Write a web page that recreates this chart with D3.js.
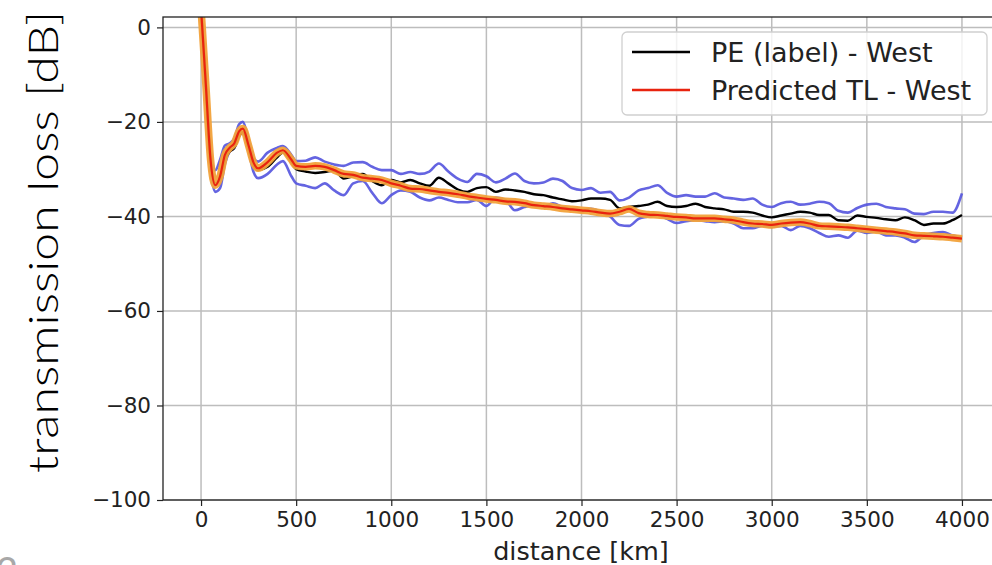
<!DOCTYPE html>
<html>
<head>
<meta charset="utf-8">
<script src="https://cdn.jsdelivr.net/npm/d3@7"></script>
<style>
  html, body { margin: 0; padding: 0; background: #fff; }
  svg { display: block; }
</style>
</head>
<body>
<svg id="chart" width="992" height="565"></svg>
<script>
// ---- data ----
const distance = [0, 25, 50, 75, 100, 125, 150, 175, 200, 220, 250, 275, 300, 350, 400, 430, 475,
  500, 550, 600, 650, 700, 750, 800, 850, 900, 950, 1000, 1050, 1100, 1150, 1200, 1250, 1300, 1350,
  1400, 1450, 1500, 1550, 1600, 1650, 1700, 1750, 1800, 1850, 1900, 1950, 2000, 2050, 2100, 2150,
  2200, 2250, 2300, 2350, 2400, 2450, 2500, 2550, 2600, 2650, 2700, 2750, 2800, 2850, 2900, 2950,
  3000, 3050, 3100, 3150, 3200, 3250, 3300, 3350, 3400, 3450, 3500, 3550, 3600, 3650, 3700, 3750,
  3800, 3850, 3900, 3950, 4000];

const peLabel = [4, -12, -28, -33, -32, -28, -26.3, -25.5, -23, -22.1, -25.5, -29, -30.2, -29.5, -27.5, -26.5, -28.5,
  -30, -30.5, -30.8, -30.6, -30.3, -32, -31.5, -31, -32.5, -33.4, -32.3, -32.8, -32.3, -33, -33.5, -31.8, -33, -34.3,
  -34.8, -34, -33.8, -34.8, -34.3, -34.5, -34.8, -35.3, -35.5, -36, -36.4, -36.8, -36.6, -36.2, -36.2, -36.5,
  -38.3, -38, -37.8, -37.5, -36.9, -37.8, -38, -37.8, -37.3, -38, -38.3, -38.5, -39, -39, -39.2, -39.8,
  -40.2, -39.8, -39.4, -39, -39.2, -39.7, -39.7, -40.8, -40.9, -39.8, -40.1, -40.3, -40.6, -40.8, -40.2, -40.8,
  -41.8, -41.5, -41.5, -40.8, -39.7];

const peUpper = [4, -11, -26, -30.2, -28, -25, -24.5, -23.5, -20.5, -20, -24, -27.5, -28.4, -26.5, -25.5, -25.1, -27,
  -28.3, -28.2, -27.5, -28.4, -29, -29.3, -28.6, -28.5, -29.5, -30.2, -30.2, -31, -30.6, -31, -30.5, -28.8, -30.5, -32,
  -32.7, -31, -31.5, -32.8, -32, -30.9, -32.5, -33, -32.8, -32, -32.5, -34, -34.4, -34, -35, -34.8,
  -36.6, -36, -34.5, -34, -33.4, -35, -35.8, -35.5, -35.8, -35.8, -35.1, -36, -36.2, -36.5, -36.2, -37.5,
  -38, -37.2, -36.9, -37.5, -37.3, -36.9, -37.2, -38.8, -39.2, -38.2, -37.5, -37.3, -38, -38.3, -38.5, -39.4,
  -39.5, -39, -39, -39.2, -35.1];

const peLower = [4, -13, -30, -34.8, -34, -29, -26.3, -25.5, -23, -22.4, -26, -30.5, -31.9, -31, -29, -28.3, -31.5,
  -33, -33.5, -34, -33, -34.5, -35.5, -33, -32.5, -35, -37.2, -35.5, -34.5, -34.8, -36, -36.6, -36, -36.5, -37,
  -37, -36.5, -37.8, -36, -36.5, -38.7, -38, -37.6, -38, -37.2, -38, -38.5, -38.9, -38.4, -39, -40,
  -41.8, -42, -40.5, -40, -39.7, -40.5, -41.4, -41, -40.8, -41, -41.2, -41, -41.5, -42.5, -42.5, -42,
  -42.2, -42, -42.9, -42, -42.5, -43.5, -44.3, -44, -44.5, -43, -43.5, -43.2, -44, -44, -44.5, -45.4,
  -44, -43.5, -43.3, -44, -44.5];

const predicted = [4, -12, -28, -33.4, -31.5, -27, -25.5, -24.5, -22, -21.4, -25, -28.5, -29.8, -28.5, -26.5, -26, -28,
  -29.3, -29.5, -29.3, -29.5, -30.2, -31, -31.2, -31.8, -32, -32.3, -33, -33.5, -34.1, -34.2, -34.5, -34.8, -35, -35.3,
  -35.7, -36, -36.3, -36.5, -36.8, -36.9, -37.2, -37.6, -37.8, -38, -38.3, -38.5, -38.7, -38.9, -39.2, -39.4,
  -39, -38.4, -39.3, -39.6, -39.7, -39.9, -40.1, -40.2, -40.4, -40.4, -40.4, -40.6, -40.8, -41.2, -41.5, -41.6,
  -41.8, -41.5, -41.3, -41.2, -41.5, -42, -42.1, -42.2, -42.3, -42.5, -42.7, -42.9, -43.1, -43.3, -43.6, -44,
  -44.1, -44.2, -44.3, -44.5, -44.7];

const xTicks = [0, 500, 1000, 1500, 2000, 2500, 3000, 3500, 4000];
const yTicks = [0, -20, -40, -60, -80, -100];
const legendLabels = ["PE (label) - West", "Predicted TL - West"];
const xTitle = "distance [km]";
const yTitle = "transmission loss [dB]";

// ---- drawing ----
const svg = d3.select("#chart");
const mLeft = 163, mTop = 17, mBottom = 500, mRight = 1000;

const x = d3.scaleLinear().domain([-200, 4200]).range([mLeft, mRight]);
const y = d3.scaleLinear().domain([-100, 2.2]).range([mBottom, mTop]);

svg.append("defs").append("clipPath").attr("id", "clip")
  .append("rect").attr("x", mLeft).attr("y", mTop).attr("width", mRight - mLeft).attr("height", mBottom - mTop);

// grid
const grid = svg.append("g");
grid.selectAll("line.gx").data(xTicks).join("line").attr("class", "gx")
  .attr("x1", d => x(d)).attr("x2", d => x(d)).attr("y1", mTop).attr("y2", mBottom)
  .attr("stroke", "#bdbdbd").attr("stroke-width", 1.5);
grid.selectAll("line.gy").data(yTicks).join("line").attr("class", "gy")
  .attr("x1", mLeft).attr("x2", mRight).attr("y1", d => y(d)).attr("y2", d => y(d))
  .attr("stroke", "#bdbdbd").attr("stroke-width", 1.5);

// lines
const line = (vals) => d3.line().x((d, i) => x(distance[i])).y(d => y(d)).curve(d3.curveMonotoneX)(vals);
const plot = svg.append("g").attr("clip-path", "url(#clip)");
plot.append("path").attr("d", line(peUpper)).attr("fill", "none").attr("stroke", "#5353de").attr("stroke-opacity", 0.9).attr("stroke-width", 2.6);
plot.append("path").attr("d", line(peLower)).attr("fill", "none").attr("stroke", "#5353de").attr("stroke-opacity", 0.9).attr("stroke-width", 2.6);
plot.append("path").attr("d", line(peLabel)).attr("fill", "none").attr("stroke", "#000").attr("stroke-width", 2.4);
plot.append("path").attr("d", line(predicted)).attr("fill", "none").attr("stroke", "#f2a23a").attr("stroke-opacity", 0.95).attr("stroke-width", 7.5).attr("stroke-linejoin", "round");
plot.append("path").attr("d", line(predicted)).attr("fill", "none").attr("stroke", "#e8230f").attr("stroke-width", 2.2);

// axes
const xAxis = svg.append("g").attr("transform", `translate(0,${mBottom})`)
  .call(d3.axisBottom(x).tickValues(xTicks).tickSize(6).tickPadding(6).tickFormat(d3.format("d")));
const yAxis = svg.append("g").attr("transform", `translate(${mLeft},0)`)
  .call(d3.axisLeft(y).tickValues(yTicks).tickSize(6).tickPadding(6).tickFormat(d => d < 0 ? "\u2212" + Math.abs(d) : d));
[xAxis, yAxis].forEach(a => {
  a.select(".domain").remove();
  a.selectAll(".tick line").attr("stroke", "#222").attr("stroke-width", 1.2);
  a.selectAll(".tick text").attr("fill", "#222").style("font-family", "DejaVu Sans").style("font-size", "21.5px");
});

// frame
svg.append("rect").attr("x", mLeft).attr("y", mTop).attr("width", mRight - mLeft).attr("height", mBottom - mTop)
  .attr("fill", "none").attr("stroke", "#222").attr("stroke-width", 1.3);

// titles
svg.append("text").attr("x", 581).attr("y", 560).attr("text-anchor", "middle")
  .style("font-family", "DejaVu Sans").style("font-size", "25.5px").attr("fill", "#222").text(xTitle);
svg.append("text").attr("transform", "translate(58,242) rotate(-90)").attr("text-anchor", "middle")
  .attr("textLength", 462).attr("lengthAdjust", "spacingAndGlyphs")
  .style("font-family", "Lato").style("font-weight", "300").style("font-size", "42px").attr("fill", "#000").text(yTitle);

// page number fragment
svg.append("text").attr("x", -4).attr("y", 585).style("font-family", "Lato").style("font-size", "38px")
  .attr("fill", "#a8a8a8").text("2");

// legend
const lg = svg.append("g");
lg.append("rect").attr("x", 622).attr("y", 32).attr("width", 365).attr("height", 83).attr("rx", 5)
  .attr("fill", "#fff").attr("fill-opacity", 0.8).attr("stroke", "#d0d0d0").attr("stroke-width", 1.3);
const legendColors = ["#000", "#e8230f"];
legendLabels.forEach((lab, i) => {
  const cy = 52 + i * 38;
  lg.append("line").attr("x1", 632).attr("x2", 690).attr("y1", cy).attr("y2", cy)
    .attr("stroke", legendColors[i]).attr("stroke-width", 2.4);
  lg.append("text").attr("x", 711).attr("y", cy + 10).style("font-family", "DejaVu Sans").style("font-size", "27px")
    .attr("fill", "#222").text(lab);
});
</script>
</body>
</html>
